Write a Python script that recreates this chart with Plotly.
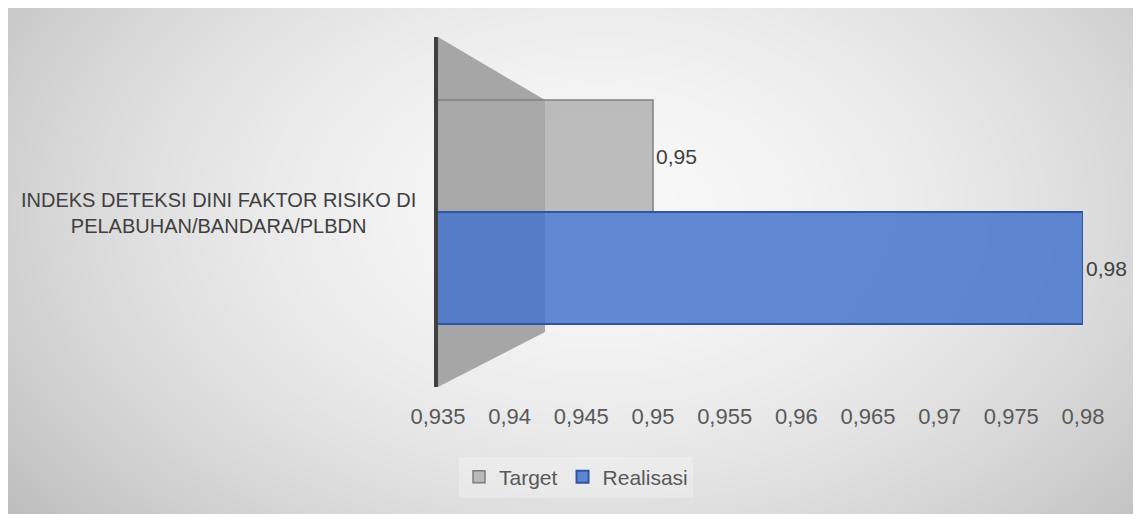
import base64, struct, zlib
import numpy as np
import plotly.graph_objects as go

# ---- data ----
categories = ["INDEKS DETEKSI DINI FAKTOR RISIKO DI<br>PELABUHAN/BANDARA/PLBDN"]
series_names = ["Target", "Realisasi"]
target_values = [0.95]
realisasi_values = [0.98]
tick_vals = [0.935, 0.94, 0.945, 0.95, 0.955, 0.96, 0.965, 0.97, 0.975, 0.98]
tick_labels = ["0,935", "0,94", "0,945", "0,95", "0,955", "0,96", "0,965", "0,97", "0,975", "0,98"]

OFF = 8  # page body margin
W, H = 1141 - OFF, 514 - OFF
# plot area in page coords: x 438..1083, y 37..387
L, R, T, B = 438 - OFF, 1141 - 1083, 37 - OFF, 514 - 387
PW, PH = W - L - R, H - T - B

def px2paper(px, py):
    """page pixel coords -> paper coords"""
    fx, fy = px - OFF, py - OFF
    return (fx - L) / PW, (H - B - fy) / PH

# ---- background gradient image (style only) ----
bw, bh = W, H
yy, xx = np.mgrid[0:bh, 0:bw]
xx = xx + OFF
yy = yy + OFF
cx, cy = 600, 210
d = np.sqrt(((xx - cx) / 640.0) ** 2 + ((yy - cy) / 420.0) ** 2)
val = 248 - 44 * np.clip(d, 0, 1.3) ** 1.8
img = np.clip(val, 0, 255).astype(np.uint8)
raw = b"".join(b"\x00" + img[i].tobytes() for i in range(bh))
def chunk(tag, data):
    c = struct.pack(">I", len(data)) + tag + data
    return c + struct.pack(">I", zlib.crc32(tag + data) & 0xffffffff)
png = b"\x89PNG\r\n\x1a\n" + chunk(b"IHDR", struct.pack(">IIBBBBB", bw, bh, 8, 0, 0, 0, 0)) \
      + chunk(b"IDAT", zlib.compress(raw, 9)) + chunk(b"IEND", b"")
bg_uri = "data:image/png;base64," + base64.b64encode(png).decode()

FONT = "Liberation Sans, Arial, sans-serif"

fig = go.Figure()
fig.add_trace(go.Bar(
    name=series_names[0], y=[0], x=target_values, orientation="h",
    marker=dict(color="rgba(168,168,168,0.75)", line=dict(color="#7f7f7f", width=1.5)),
    texttemplate="%{x}", textposition="outside", cliponaxis=False,
    textfont=dict(size=21, color="#404040", family=FONT),
))
fig.add_trace(go.Bar(
    name=series_names[1], y=[0], x=realisasi_values, orientation="h",
    marker=dict(color="rgba(70,118,204,0.85)", line=dict(color="#2f55a8", width=2)),
    texttemplate="%{x}", textposition="outside", cliponaxis=False,
    textfont=dict(size=21, color="#404040", family=FONT),
))

# back wall of the 3D chart (decorative)
wall = [(438, 37), (545, 100), (545, 332), (438, 387)]
pts = [px2paper(*p) for p in wall]
path = "M " + " L ".join(f"{x:.4f},{y:.4f}" for x, y in pts) + " Z"

ax, ay = px2paper(218, 213)
lx, ly = px2paper(576, 477)

fig.update_layout(
    width=W, height=H,
    margin=dict(l=L, r=R, t=T, b=B),
    paper_bgcolor="white", plot_bgcolor="rgba(0,0,0,0)",
    separators=",.",
    barmode="group", bargap=0.36, bargroupgap=0,
    font=dict(family=FONT, size=22, color="#595959"),
    xaxis=dict(range=[tick_vals[0], tick_vals[-1]], tickvals=tick_vals, ticktext=tick_labels,
               showgrid=False, zeroline=False, showline=False, ticks="",
               ticklabelstandoff=14, tickfont=dict(size=22, color="#595959")),
    yaxis=dict(type="linear", range=[0.5, -0.5], showticklabels=False, showgrid=False,
               zeroline=False, showline=True, linecolor="#404040", linewidth=4),
    legend=dict(orientation="h", x=lx, xanchor="center", y=ly, yanchor="middle",
                bgcolor="rgba(255,255,255,0.25)", font=dict(size=21, color="#595959"),
                itemwidth=30, traceorder="normal"),
    images=[dict(source=bg_uri, xref="paper", yref="paper",
                 x=-L / PW, y=1 + T / PH,
                 sizex=bw / PW, sizey=bh / PH, xanchor="left", yanchor="top",
                 sizing="stretch", layer="below")],
    shapes=[dict(type="path", path=path, xref="paper", yref="paper",
                 fillcolor="#a6a6a6", line=dict(width=0), layer="below")],
    annotations=[dict(text=categories[0], xref="paper", yref="paper", x=ax, y=ay,
                      xanchor="center", yanchor="middle", align="center", showarrow=False,
                      font=dict(size=20, color="#404040", family=FONT))],
)

fig.write_html("out.html")
